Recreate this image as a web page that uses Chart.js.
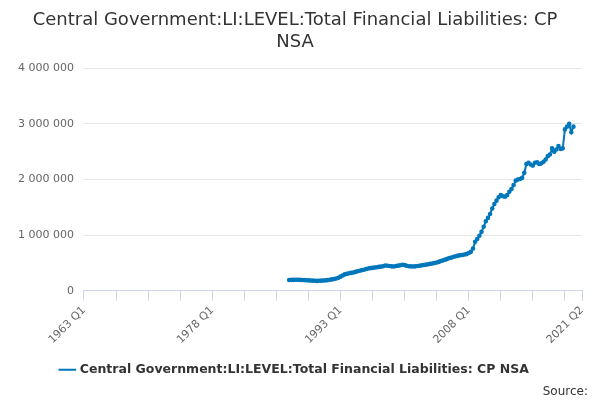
<!DOCTYPE html>
<html><head><meta charset="utf-8">
<script src="https://cdn.jsdelivr.net/npm/chart.js@4"></script>
<style>body{margin:0;background:#fff;font-family:"DejaVu Sans",sans-serif}#w{position:relative;width:600px;height:400px}#s{position:absolute;right:12px;bottom:2px;font-size:12px;color:#333}</style>
</head><body><div id="w"><canvas id="c" width="600" height="400"></canvas><div id="s">Source:</div></div>
<script>
const startYear=1963;
const firstDataYear=1987;
const values=[
195000,197000,196000,198000,
200000,197000,195000,193000,
190000,188000,186000,183000,
180000,178000,180000,183000,
186000,188000,192000,198000,
205000,212000,222000,235000,
255000,275000,295000,305000,
315000,322000,330000,340000,
352000,362000,372000,380000,
392000,400000,408000,412000,
418000,424000,430000,435000,
442000,455000,450000,445000,
440000,438000,445000,452000,
460000,468000,462000,450000,
442000,440000,438000,440000,
445000,450000,458000,465000,
470000,478000,485000,492000,
500000,510000,520000,535000,
548000,560000,575000,590000,
600000,612000,622000,632000,
638000,645000,652000,660000,
680000,700000,760000,880000,
930000,990000,1060000,1150000,
1250000,1310000,1380000,1480000,
1560000,1620000,1680000,1720000,
1700000,1690000,1720000,1780000,
1830000,1900000,1980000,2000000,
2010000,2030000,2120000,2280000,
2300000,2270000,2250000,2300000,
2310000,2280000,2290000,2320000,
2360000,2420000,2450000,2560000,
2500000,2540000,2600000,2550000,
2560000,2900000,2950000,3000000,
2850000,2950000];
const labels=[];
for(let y=startYear;y<=2021;y++)for(let q=1;q<=4;q++){if(y===2021&&q>2)break;labels.push(y+" Q"+q);}
const offset=(firstDataYear-startYear)*4;
const data=labels.map((l,i)=>i<offset?null:values[i-offset]);
const shown={0:1,60:1,120:1,180:1};shown[labels.length-1]=1;
new Chart(document.getElementById('c'),{type:'line',
data:{labels,datasets:[{label:'Central Government:LI:LEVEL:Total Financial Liabilities: CP NSA',data,borderColor:'#0077bb',backgroundColor:'#0077bb',borderWidth:2,pointRadius:1.3,pointHoverRadius:3,tension:0}]},
options:{responsive:false,animation:false,layout:{padding:{left:8,right:18,top:0,bottom:14}},
plugins:{title:{display:true,text:['Central Government:LI:LEVEL:Total Financial Liabilities: CP','NSA'],font:{size:18,weight:'normal',family:'DejaVu Sans'},color:'#333',padding:{top:10,bottom:15}},
legend:{position:'bottom',labels:{usePointStyle:true,pointStyle:'line',font:{size:12.5,weight:'bold',family:'DejaVu Sans'},color:'#333',padding:14}}},
scales:{x:{grid:{drawOnChartArea:false,drawTicks:true,tickLength:10,color:ctx=>(ctx.index%15===0||ctx.index===labels.length-1)?'#ccd6eb':'rgba(0,0,0,0)'},border:{color:'#ccd6eb'},
ticks:{autoSkip:false,maxRotation:45,minRotation:45,color:'#666',font:{size:11,family:'DejaVu Sans'},callback:(v,i)=>shown[i]?labels[i]:''}},
y:{min:0,max:4000000,ticks:{stepSize:1000000,color:'#666',font:{size:11,family:'DejaVu Sans'},padding:10,callback:v=>v===0?'0':v.toLocaleString('fr-FR').replace(/[\u202f\u00a0]/g,' ')},grid:{color:'#e6e6e6',drawTicks:false},border:{display:false}}}}});
</script></body></html>
